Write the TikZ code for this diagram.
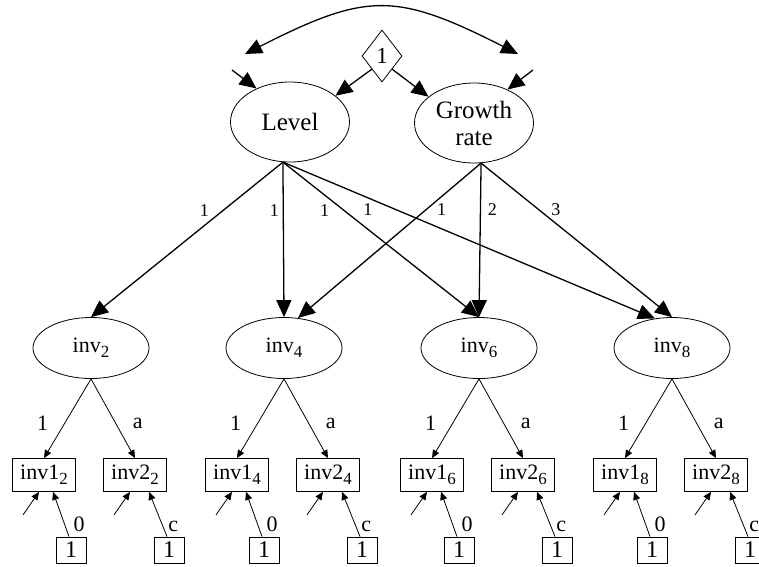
\documentclass[tikz,border=0pt]{standalone}
\usepackage{fontspec}
\setmainfont{Liberation Serif}
\usepackage{tikz}
\usetikzlibrary{shapes.geometric,arrows.meta,positioning,calc}

\newcommand{\lsub}[1]{\raisebox{-5pt}{\fontsize{17}{17}\selectfont #1}}

\begin{document}
\begin{tikzpicture}[x=1pt,y=-1pt,
  bigl/.style={ellipse,draw,line width=0.8pt,minimum width=119pt,minimum height=80pt,
               inner sep=0pt,font=\fontsize{25}{27}\selectfont,align=center},
  lat/.style={ellipse,draw,line width=0.8pt,minimum width=116pt,minimum height=61pt,
              inner sep=0pt,font=\fontsize{22}{24}\selectfont},
  obs/.style={rectangle,draw,line width=0.8pt,minimum width=63pt,minimum height=33pt,
              inner sep=0pt,font=\fontsize{22}{24}\selectfont},
  cst/.style={rectangle,draw,line width=0.8pt,minimum width=30pt,minimum height=26pt,
              inner sep=0pt,font=\fontsize{24}{24}\selectfont},
  onebox/.style={diamond,draw,line width=0.8pt,minimum width=40pt,minimum height=52pt,
                 inner sep=0pt,font=\fontsize{23}{23}\selectfont},
  pth/.style={-{Triangle[length=17pt,width=15pt]},line width=1.3pt},
  cov/.style={{Triangle[length=17pt,width=15pt]}-{Triangle[length=17pt,width=15pt]},line width=1.3pt},
  sm/.style={-{Triangle[length=8pt,width=7pt]},line width=0.8pt},
  wt/.style={font=\fontsize{18}{18}\selectfont,inner sep=0pt},
  lw/.style={font=\fontsize{22}{22}\selectfont,inner sep=0pt}
]
  \useasboundingbox (0,0) rectangle (759,566);

  % growth factors
  \node[bigl](Lev) at (290,122) {Level};
  \node[bigl](Gro) at (474,123) {Growth\\rate};
  \node[onebox](one) at (382,56) {1};

  \coordinate (cL) at (245,54);
  \coordinate (cG) at (518,54);
  \coordinate (dL) at (232,70);
  \coordinate (dG) at (533,70);

  \draw[cov](cL) .. controls (367,-8) and (396,-8) .. (cG);
  \draw[pth](dL)--(Lev.135);
  \draw[pth](dG)--(Gro.45);
  \draw[pth](one.south west)--(Lev.30);
  \draw[pth](one.south east)--(Gro.150);

  % ── occasions ──
  \foreach \t/\x in {2/91,4/284,6/479,8/672}{
    \node[lat](e\t) at (\x,348) {inv\lsub{\t}};
    \node[obs](a\t) at (\x-47,475) {inv1\lsub{\t}};
    \node[obs](b\t) at (\x+44,475) {inv2\lsub{\t}};
    \node[cst](ka\t) at (\x-20,550) {1};
    \node[cst](kb\t) at (\x+78,550) {1};
    \coordinate (ua\t) at ($(a\t.south)+(-21,23)$);
    \coordinate (ub\t) at ($(b\t.south)+(-21,23)$);

    \draw[sm](e\t.south)--(a\t.north) node[lw,pos=0.56,xshift=-22pt]{1};
    \draw[sm](e\t.south)--(b\t.north) node[lw,pos=0.56,xshift=22pt]{a};
    \draw[sm](ua\t)--([xshift=-5pt]a\t.south);
    \draw[sm](ub\t)--([xshift=-5pt]b\t.south);
    \draw[sm]([xshift=-2pt]ka\t.north)--([xshift=9pt]a\t.south)
        node[lw,pos=0.11,anchor=base west,xshift=6pt]{0};
    \draw[sm]([xshift=-2pt]kb\t.north)--([xshift=14pt]b\t.south)
        node[lw,pos=0.11,anchor=base west,xshift=3pt]{c};
  }

  % ── loadings ──
  \draw[pth](Lev.260)--(e2.north) node[wt,pos=0.31,xshift=-19pt]{1};
  \draw[pth](Lev.260)--(e4.north) node[wt,pos=0.31,xshift=-9pt]{1};
  \draw[pth](Lev.260)--(e6.north) node[wt,pos=0.31,xshift=-19pt]{1};
  \draw[pth](Lev.260)--(e8.120) node[wt,pos=0.306,xshift=-29pt]{1};
  \draw[pth](Gro.280)--(e4.65) node[wt,pos=0.303,xshift=16pt]{1};
  \draw[pth](Gro.280)--(e6.north) node[wt,pos=0.303,xshift=12pt]{2};
  \draw[pth](Gro.280)--(e8.north) node[wt,pos=0.303,xshift=17pt]{3};
\end{tikzpicture}
\end{document}
